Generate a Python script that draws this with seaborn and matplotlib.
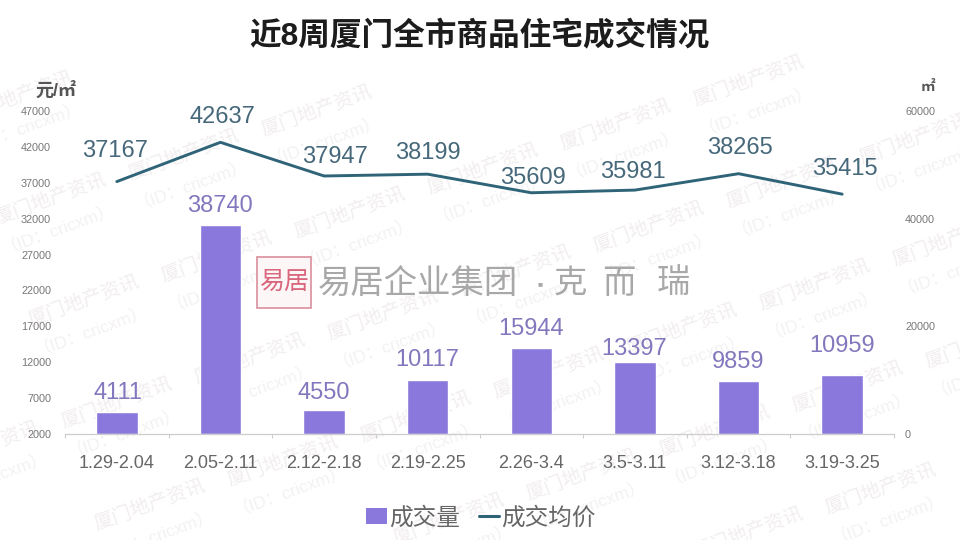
import matplotlib
matplotlib.use('Agg')
import matplotlib.pyplot as plt
from matplotlib.lines import Line2D
from matplotlib.patches import Patch, Rectangle
import numpy as np
import pandas as pd
import seaborn as sns

weeks = ['1.29-2.04', '2.05-2.11', '2.12-2.18', '2.19-2.25', '2.26-3.4', '3.5-3.11', '3.12-3.18', '3.19-3.25']
volume = [4111, 38740, 4550, 10117, 15944, 13397, 9859, 10959]
avg_price = [37167, 42637, 37947, 38199, 35609, 35981, 38265, 35415]
price_ticks = [2000, 7000, 12000, 17000, 22000, 27000, 32000, 37000, 42000, 47000]
volume_ticks = [0, 20000, 40000, 60000]

PURPLE = '#8b78dc'
LINE = '#2f6478'

sns.set_theme(style='white')
plt.rcParams['font.family'] = ['Liberation Sans', 'Noto Sans CJK SC']

df = pd.DataFrame({'week': weeks, 'volume': volume, 'avg_price': avg_price})

fig = plt.figure(figsize=(9.6, 5.4), dpi=100)
ax = fig.add_axes([65 / 960, 1 - 434 / 540, 829 / 960, 323 / 540])
ax.set_zorder(1)
ax.patch.set_alpha(0)

# watermark lattice, sits under the axes, nothing behind the title
for row in range(-4, 8):
    for col in range(-8, 8):
        wx = 616 + col * 133 + row * 33
        wy = 125 - col * 44 + row * 102
        if -40 < wx < 1000 and 75 < wy < 545:
            fig.text(wx / 960, 1 - wy / 540, '厦门地产资讯', fontsize=14, color='#f2eef0',
                     rotation=20, ha='center', va='center', zorder=0)
            fig.text((wx + 7) / 960, 1 - (wy + 27) / 540, '（ID：cricxm）', fontsize=12.5, color='#f4f1f3',
                     rotation=20, ha='center', va='center', zorder=0)

sns.barplot(data=df, x='week', y='volume', color=PURPLE, saturation=1, width=0.4, ax=ax, zorder=2)
ax.set_xlim(-0.5, 7.5)
ax.set_ylim(0, 60000)
ax.set_xticks(np.arange(-0.5, 8), minor=True)
ax.tick_params(axis='x', which='minor', bottom=True, length=3, width=0.8, color='#cccccc')
ax.tick_params(axis='x', which='major', length=0, pad=15, labelsize=13, labelcolor='#666666')
ax.set_xlabel('')
ax.set_ylabel('')

ax2 = ax.twinx()
ax2.set_zorder(2)
ax2.patch.set_alpha(0)
sns.lineplot(data=df, x='week', y='avg_price', color=LINE, linewidth=2.1, sort=False, ax=ax2)
ax2.set_ylim(2000, 47000)
ax2.set_yticks(price_ticks)
ax2.yaxis.tick_left()
ax2.tick_params(axis='y', length=0, pad=10, labelsize=7.8, labelcolor='#777777')
ax2.set_xlabel('')
ax2.set_ylabel('')

# twinx moves the first axis' ticks, so set the right side afterwards
ax.set_yticks(volume_ticks)
ax.yaxis.tick_right()
ax.tick_params(axis='y', length=0, pad=8, labelsize=7.8, labelcolor='#777777')

for a in (ax, ax2):
    sns.despine(ax=a, left=True, right=True, top=True)
    a.spines['bottom'].set_color('#cccccc')
    a.spines['bottom'].set_linewidth(0.8)

# label offsets in pixels, some labels sit off-centre in the original
bar_off = [(1, 19), (0, 19), (0, 17), (0, 20), (0, 19), (-1, 13), (0, 19), (0, 29)]
line_off = [(-2, 31), (2, 25), (11, 19), (0, 21), (2, 15), (-2, 18), (1, 26), (3, 25)]
for i in range(len(weeks)):
    ax.annotate(str(volume[i]), (i, volume[i]), xytext=(bar_off[i][0] * 0.72, bar_off[i][1] * 0.72),
                textcoords='offset points', ha='center', va='center', fontsize=17, color='#8378bd')
    ax2.annotate(str(avg_price[i]), (i, avg_price[i]), xytext=(line_off[i][0] * 0.72, line_off[i][1] * 0.72),
                 textcoords='offset points', ha='center', va='center', fontsize=17, color='#46687a')

fig.text(479 / 960, 1 - 37 / 540, '近8周厦门全市商品住宅成交情况', fontsize=22.8, fontweight='bold',
         color='#1c1c1c', ha='center', va='center')
fig.text(56 / 960, 1 - 91 / 540, '元/㎡', fontsize=13, fontweight='bold', color='#555555', ha='center', va='center')
fig.text(928 / 960, 1 - 87 / 540, '㎡', fontsize=10.5, fontweight='bold', color='#555555', ha='center', va='center')

# company logo in the middle of the plot
fig.add_artist(Rectangle((257 / 960, 1 - 308 / 540), 54 / 960, 51 / 540, transform=fig.transFigure,
                         facecolor='#fdf6f7', edgecolor='#d98f9c', lw=1.2, zorder=4))
fig.text(284 / 960, 1 - 282 / 540, '易居', fontsize=18, color='#d9667c', ha='center', va='center', zorder=5)
fig.text(318 / 960, 1 - 284 / 540, '易居企业集团', fontsize=24, color='#a8a8a8', ha='left', va='center', zorder=5)
fig.text(540 / 960, 1 - 285 / 540, '■', fontsize=6, color='#a8a8a8', ha='center', va='center', zorder=5)
for word, px in zip(['克', '而', '瑞'], [570, 619, 673]):
    fig.text(px / 960, 1 - 284 / 540, word, fontsize=24, color='#a8a8a8', ha='center', va='center', zorder=5)

handles = [Patch(facecolor=PURPLE, edgecolor='none'), Line2D([0], [0], color=LINE, lw=2.2)]
fig.legend(handles, ['成交量', '成交均价'], loc='center', bbox_to_anchor=(481 / 960, 1 - 518 / 540), ncol=2,
           frameon=False, fontsize=17, labelcolor='#666666', handlelength=0.85, handletextpad=0.1, columnspacing=0.8)

fig.savefig('out.png', dpi=100)
